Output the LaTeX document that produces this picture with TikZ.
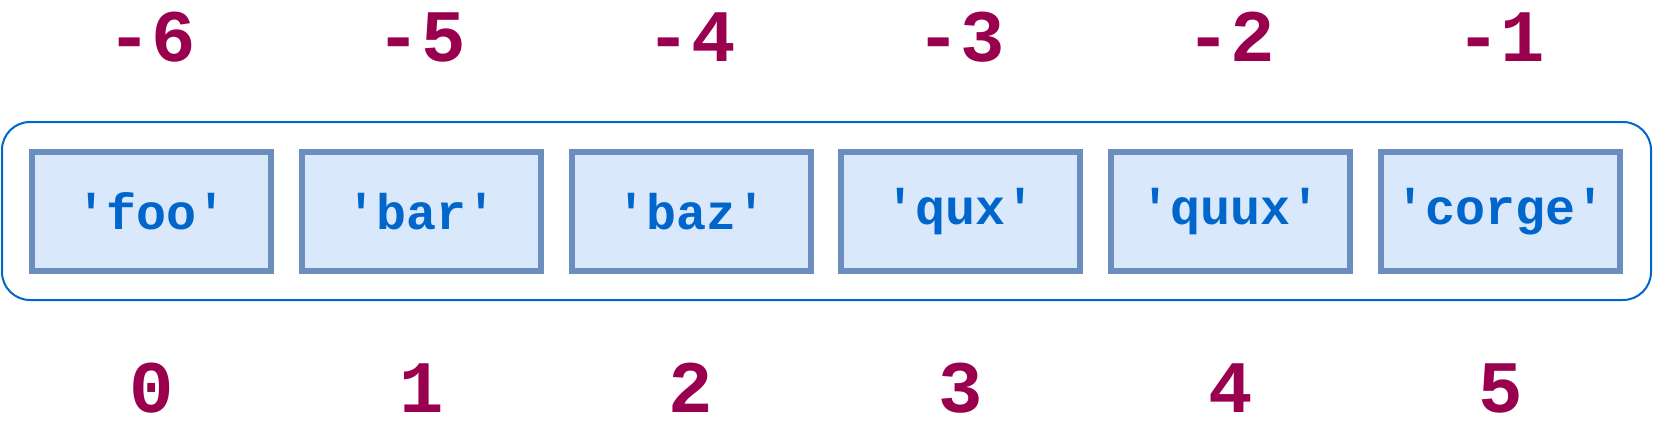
\documentclass[tikz,border=0pt]{standalone}
\usepackage{fontspec}
\setmonofont{Liberation Mono}
\usepackage{tikz}
\usetikzlibrary{positioning}

\definecolor{cellfill}{HTML}{DAE8FC}
\definecolor{celldraw}{HTML}{6C8EBF}
\definecolor{listblue}{HTML}{0066CC}
\definecolor{idxred}{HTML}{99004D}

\tikzset{
  cell/.style={rectangle, draw=celldraw, fill=cellfill, line width=3pt,
    minimum width=119.5pt, minimum height=59.5pt, inner sep=0pt,
    text=listblue, font=\ttfamily\bfseries\fontsize{25}{25}\selectfont},
  idx/.style={text=idxred, anchor=base, inner sep=0pt,
    font=\ttfamily\bfseries\fontsize{37}{37}\selectfont},
  frame/.style={draw=listblue, line width=1pt, rounded corners=14pt}
}

\begin{document}
\begin{tikzpicture}[x=0.5pt, y=-0.5pt]
    \useasboundingbox (0,0) rectangle (1653,429);
    \draw[frame] (2,122) rectangle (1651,300);
    \foreach \i/\word [evaluate=\i as \neg using int(\i-6)] in
        {0/foo, 1/bar, 2/baz, 3/qux, 4/quux, 5/corge} {
        \node[cell] (cell\i) at (151.5+269.8*\i, 211.5) {'\word'};
        \node[idx] (neg\i) at (151.5+269.8*\i, 61) {\neg};
        \node[idx] (pos\i) at (151.5+269.8*\i, 412) {\i};
    }
\end{tikzpicture}
\end{document}
